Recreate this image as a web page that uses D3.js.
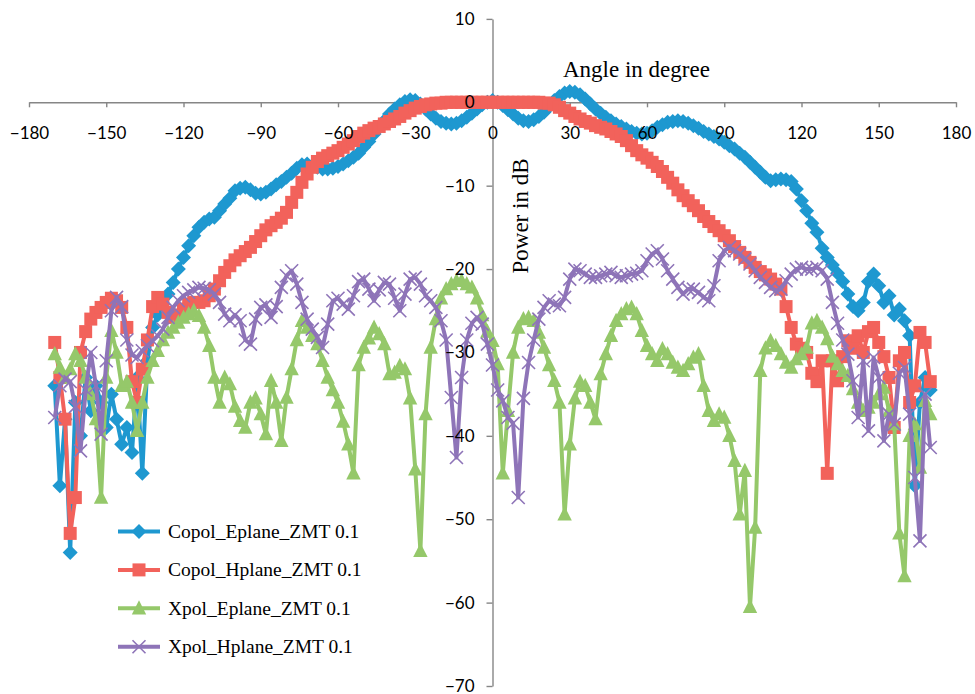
<!DOCTYPE html>
<html>
<head>
<meta charset="utf-8">
<script src="https://cdn.jsdelivr.net/npm/d3@7"></script>
<style>
  body { margin: 0; background: #fff; }
  .axis path, .axis line { stroke: #868686; stroke-width: 1.4px; }
  .axis text { font-family: Lato, "Open Sans", sans-serif; font-size: 17px; fill: #000; }
  .labels path, .labels line { stroke: none; }
  .title { font-family: "Liberation Serif", "Times New Roman", serif; font-size: 23px; fill: #000; }
  .legend text { font-family: "Liberation Serif", "Times New Roman", serif; font-size: 19.5px; fill: #000; }
</style>
</head>
<body>
<div id="chart"></div>
<script>
//---->DATA<-----//
// angle grid, -170..170 every 2 degrees
const angles = d3.range(-170, 171, 2);

const copolEplane = [
  -34, -46, -38, -54, -36, -40, -33, -37, -34, -36,
  -39, -35, -38, -41, -39, -42, -33, -44.5, -31, -27,
  -25.5, -24.2, -23, -21.6, -20, -18.6, -17.2, -16, -15, -14.4,
  -14, -13.8, -13, -12.2, -11.5, -10.6, -10.3, -10.2, -10.5, -10.9,
  -11, -10.8, -10.4, -9.9, -9.5, -9, -8.5, -7.9, -7.5, -7.4,
  -7.6, -7.8, -8, -8, -7.9, -7.7, -7.4, -7, -6.6, -6.1,
  -5.4, -4.7, -3.8, -3, -2.2, -1.4, -0.8, -0.3, 0.1, 0.3,
  0.2, -0.2, -0.8, -1.4, -1.9, -2.3, -2.5, -2.6, -2.5, -2.2,
  -1.8, -1.3, -0.8, -0.3, 0, 0.2, 0, -0.4, -0.9, -1.4,
  -1.9, -2.2, -2.3, -2.1, -1.7, -1.2, -0.5, 0.2, 0.7, 1.1,
  1.3, 1.2, 0.9, 0.4, -0.2, -0.8, -1.3, -1.8, -2.2, -2.6,
  -2.9, -3.2, -3.5, -3.7, -3.8, -3.7, -3.4, -3, -2.7, -2.4,
  -2.3, -2.2, -2.3, -2.5, -2.8, -3.1, -3.5, -3.8, -4.1, -4.4,
  -4.8, -5.2, -5.6, -6.1, -6.6, -7.2, -7.8, -8.4, -9, -9.4,
  -9.3, -9.2, -9.3, -9.5, -10.4, -11.8, -13, -14.5, -15.6, -17.5,
  -18.6, -19.5, -20.5, -21.5, -23, -24.5, -25, -24, -21.5, -20.6,
  -22, -24, -23.2, -25.5, -24.8, -26.2, -28, -46, -36, -33,
  -34.5
];

const copolHplane = [
  -28.8, -33, -38, -51.7, -47.4, -30, -27.5, -26, -25.2, -24.6,
  -24, -23.5, -23.8, -24.6, -27, -33.5, -36, -32, -28.5, -24.5,
  -23.4, -24.2, -25.2, -25.8, -25.5, -24.8, -24.2, -24, -24, -23.8,
  -23.2, -22.4, -21.4, -20.4, -19.6, -18.9, -18.4, -17.9, -17.4, -16.7,
  -16, -15.3, -14.8, -14.4, -13.9, -13.2, -12, -10.8, -9.6, -8.6,
  -7.8, -7.1, -6.7, -6.4, -6.1, -5.8, -5.4, -5, -4.6, -4.1,
  -3.7, -3.4, -3.1, -2.9, -2.6, -2.3, -2, -1.7, -1.3, -1,
  -0.7, -0.5, -0.3, -0.2, -0.1, -0.1, 0, 0, 0, 0,
  0, 0, 0, 0, 0, 0, 0, 0, 0, 0,
  0, 0, 0, 0, 0, -0.1, -0.1, -0.3, -0.6, -1,
  -1.3, -1.7, -2, -2.3, -2.5, -2.8, -3, -3.2, -3.5, -3.8,
  -4.1, -4.6, -5.2, -5.8, -6.3, -6.7, -7.2, -7.7, -8.3, -9,
  -9.7, -10.5, -11.2, -11.8, -12.4, -13, -13.7, -14.3, -14.9, -15.4,
  -16, -16.6, -17.3, -18, -18.6, -19.2, -19.8, -20.3, -20.7, -21.2,
  -21.8, -22.4, -24.5, -27, -29, -29.5, -30, -32.5, -33.5, -31,
  -44.5, -31, -33.4, -30.5, -28.6, -29.5, -28, -30, -27.5, -27,
  -28.8, -30.5, -33, -39, -31, -30, -36, -34, -27.6, -28.8,
  -33.5
];

const xpolEplane = [
  -30.2, -31.8, -33, -32, -30.2, -31, -33, -35, -38, -47.4,
  -33, -27.4, -30, -34, -33.5, -36, -39.4, -36, -33, -31,
  -29.8, -28.5, -27.6, -27, -26.4, -25.8, -25.4, -25, -25.6, -27,
  -29.2, -33, -36, -33, -33.8, -36.5, -38.2, -39, -36, -35.5,
  -37.4, -39.8, -33.4, -36, -40.6, -35.4, -32, -28.5, -26.2, -27,
  -28, -29, -31, -33, -34.5, -36, -38.3, -41, -44.5, -31.5,
  -29.4, -28.3, -27, -27.8, -29, -32.6, -32.4, -31.6, -32, -35.5,
  -44, -53.8, -37.4, -29.4, -26, -23.5, -22.4, -21.8, -21.4, -21.4,
  -21.8, -22.2, -23.5, -25.5, -27.5, -28.6, -31.4, -44.5, -37, -30,
  -27, -26, -25.8, -26.2, -27.6, -29.4, -31.5, -33.4, -36, -49.4,
  -41, -35.5, -33.5, -34, -36, -38, -32.6, -30.2, -28, -26.2,
  -25.4, -24.8, -24.6, -25.4, -27.4, -29.2, -30.2, -31, -29.6, -30.2,
  -31.2, -31.8, -32.2, -31.4, -30.6, -30.2, -34, -37, -38.2, -37.4,
  -37.8, -40, -43, -49.4, -44.2, -60.5, -51, -32.2, -29.5, -28.6,
  -29.2, -30.2, -31.2, -31.8, -30.8, -30.2, -29.4, -26.5, -26.2, -27,
  -28.4, -30.5, -31.4, -32.2, -32.8, -34.4, -36, -37, -36.6, -36,
  -35, -34.2, -37, -38.6, -51.7, -56.8, -40, -38.6, -43.8, -35.8,
  -37.4
];

const xpolHplane = [
  -37.8, -34, -33.2, -33.5, -36.5, -41.8, -34.5, -30, -34, -39.8,
  -31, -25, -23.4, -24.5, -28.5, -30.3, -30.6, -29.8, -29.2, -28.6,
  -28, -27.2, -25.8, -24.6, -23.8, -23.2, -22.8, -22.5, -22.2, -22.3,
  -22.5, -23, -24, -25.4, -26.2, -25.5, -26.2, -28.5, -29, -26,
  -24.6, -24.3, -25.8, -24.5, -22.2, -20.8, -20.2, -21.8, -24, -26,
  -27.2, -28.2, -29.4, -26.6, -23.8, -23.5, -24.2, -24.8, -23.2, -21.5,
  -21.2, -22.4, -23.8, -22.5, -21.6, -21.8, -23.5, -25, -23, -21.2,
  -21, -21.8, -23.2, -23.8, -24.6, -26.2, -28.5, -35.4, -42.6, -33,
  -28.5, -26.5, -25.8, -26.6, -29, -31.5, -34.5, -35.8, -37.8, -38.5,
  -47.4, -35.5, -31.2, -28.5, -26, -24.6, -23.8, -24.2, -24.4, -23.4,
  -21.2, -20, -20.2, -20.6, -21, -21, -20.8, -20.6, -20.4, -20.8,
  -21, -20.8, -20.6, -20.5, -20.2, -19, -18.2, -17.8, -18.8, -20.2,
  -21.2, -22.2, -23, -22.4, -22.4, -22.8, -23.4, -23.8, -22, -19,
  -17.8, -17.4, -17.8, -18.2, -18.8, -19.4, -20.2, -21, -21.6, -22.2,
  -22.6, -22.4, -21.4, -20.6, -20, -19.8, -20, -20, -19.8, -20.2,
  -21.2, -24, -26.5, -28.5, -30.2, -33.4, -37.8, -31, -39.4, -30.6,
  -33, -40.6, -37.4, -38.6, -32.5, -31.8, -37.4, -45, -52.6, -35,
  -41.4
];

const seriesNames = ['Copol_Eplane_ZMT 0.1', 'Copol_Hplane_ZMT 0.1', 'Xpol_Eplane_ZMT 0.1', 'Xpol_Hplane_ZMT 0.1'];
const seriesColors = ['#1E98D0', '#F2625B', '#95C86A', '#8E74B8'];
const seriesMarkers = ['diamond', 'square', 'triangle', 'cross'];

const xTicks = [-180, -150, -120, -90, -60, -30, 0, 30, 60, 90, 120, 150, 180];
const yTicks = [-70, -60, -50, -40, -30, -20, -10, 0, 10];

//---->SETUP<-----//
const outerW = 975,
    outerH = 694;

const x = d3.scaleLinear().domain([-180, 180]).range([29, 956]);
const y = d3.scaleLinear().domain([-70, 10]).range([686, 18.9]);

const series = [copolEplane, copolHplane, xpolEplane, xpolHplane].map((vals, i) => ({
  name: seriesNames[i],
  color: seriesColors[i],
  marker: seriesMarkers[i],
  points: angles.map((a, j) => ({ a: a, v: vals[j] }))
}));

const markerPath = {
  diamond: 'M0,-7.5L7.5,0L0,7.5L-7.5,0Z',
  square: 'M-6.5,-6.5H6.5V6.5H-6.5Z',
  triangle: 'M0,-8L7.2,6.2H-7.2Z',
  cross: 'M-6.5,-6.5L6.5,6.5M6.5,-6.5L-6.5,6.5'
};

function styleMarker(sel, s) {
  if (s.marker === 'cross') {
    sel.style('fill', 'none').style('stroke', s.color).style('stroke-width', 1.6);
  } else {
    sel.style('fill', s.color).style('stroke', 'none');
  }
}

const svg = d3.select('#chart').append('svg')
    .attr('width', outerW)
    .attr('height', outerH);

// axis lines (behind the series)
svg.append('g')
    .attr('class', 'axis')
    .attr('transform', 'translate(0,' + y(0) + ')')
    .call(d3.axisBottom(x).tickValues(xTicks).tickSize(5).tickSizeOuter(0).tickFormat(''));

svg.append('g')
    .attr('class', 'axis')
    .attr('transform', 'translate(' + x(0) + ',0)')
    .call(d3.axisLeft(y).tickValues(yTicks).tickSize(6).tickSizeOuter(0).tickFormat(''));

// series
const line = d3.line()
    .x(d => x(d.a))
    .y(d => y(d.v));

series.forEach(s => {
  const gs = svg.append('g').attr('class', 'series');

  gs.append('path')
      .datum(s.points)
      .attr('d', line)
      .style('fill', 'none')
      .style('stroke', s.color)
      .style('stroke-width', 4)
      .style('stroke-linejoin', 'round');

  gs.selectAll('.pt')
      .data(s.points)
      .enter().append('path')
      .attr('class', 'pt')
      .attr('transform', d => 'translate(' + x(d.a) + ',' + y(d.v) + ')')
      .attr('d', markerPath[s.marker])
      .call(styleMarker, s);
});

// tick labels on top
svg.append('g')
    .attr('class', 'axis labels')
    .attr('transform', 'translate(0,' + y(0) + ')')
    .call(d3.axisBottom(x).tickValues(xTicks).tickSize(5).tickPadding(20).tickSizeOuter(0));

svg.append('g')
    .attr('class', 'axis labels')
    .attr('transform', 'translate(' + x(0) + ',0)')
    .call(d3.axisLeft(y).tickValues(yTicks).tickSize(6).tickPadding(12).tickSizeOuter(0));

// axis titles
svg.append('text')
    .attr('class', 'title')
    .attr('x', 563)
    .attr('y', 77)
    .text('Angle in degree');

svg.append('text')
    .attr('class', 'title')
    .attr('transform', 'translate(528,216) rotate(-90)')
    .attr('text-anchor', 'middle')
    .text('Power in dB');

// legend
const legend = svg.append('g')
    .attr('class', 'legend')
    .attr('transform', 'translate(118,531.5)');

const items = legend.selectAll('.item')
    .data(series)
    .enter().append('g')
    .attr('class', 'item')
    .attr('transform', (d, i) => 'translate(0,' + i * 38.4 + ')');

items.append('line')
    .attr('x1', 0)
    .attr('x2', 42)
    .style('stroke', d => d.color)
    .style('stroke-width', 4);

items.each(function(d) {
  d3.select(this).append('path')
      .attr('transform', 'translate(21,0)')
      .attr('d', markerPath[d.marker])
      .call(styleMarker, d);
});

items.append('text')
    .attr('x', 50)
    .attr('y', 6.5)
    .text(d => d.name);
</script>
</body>
</html>
